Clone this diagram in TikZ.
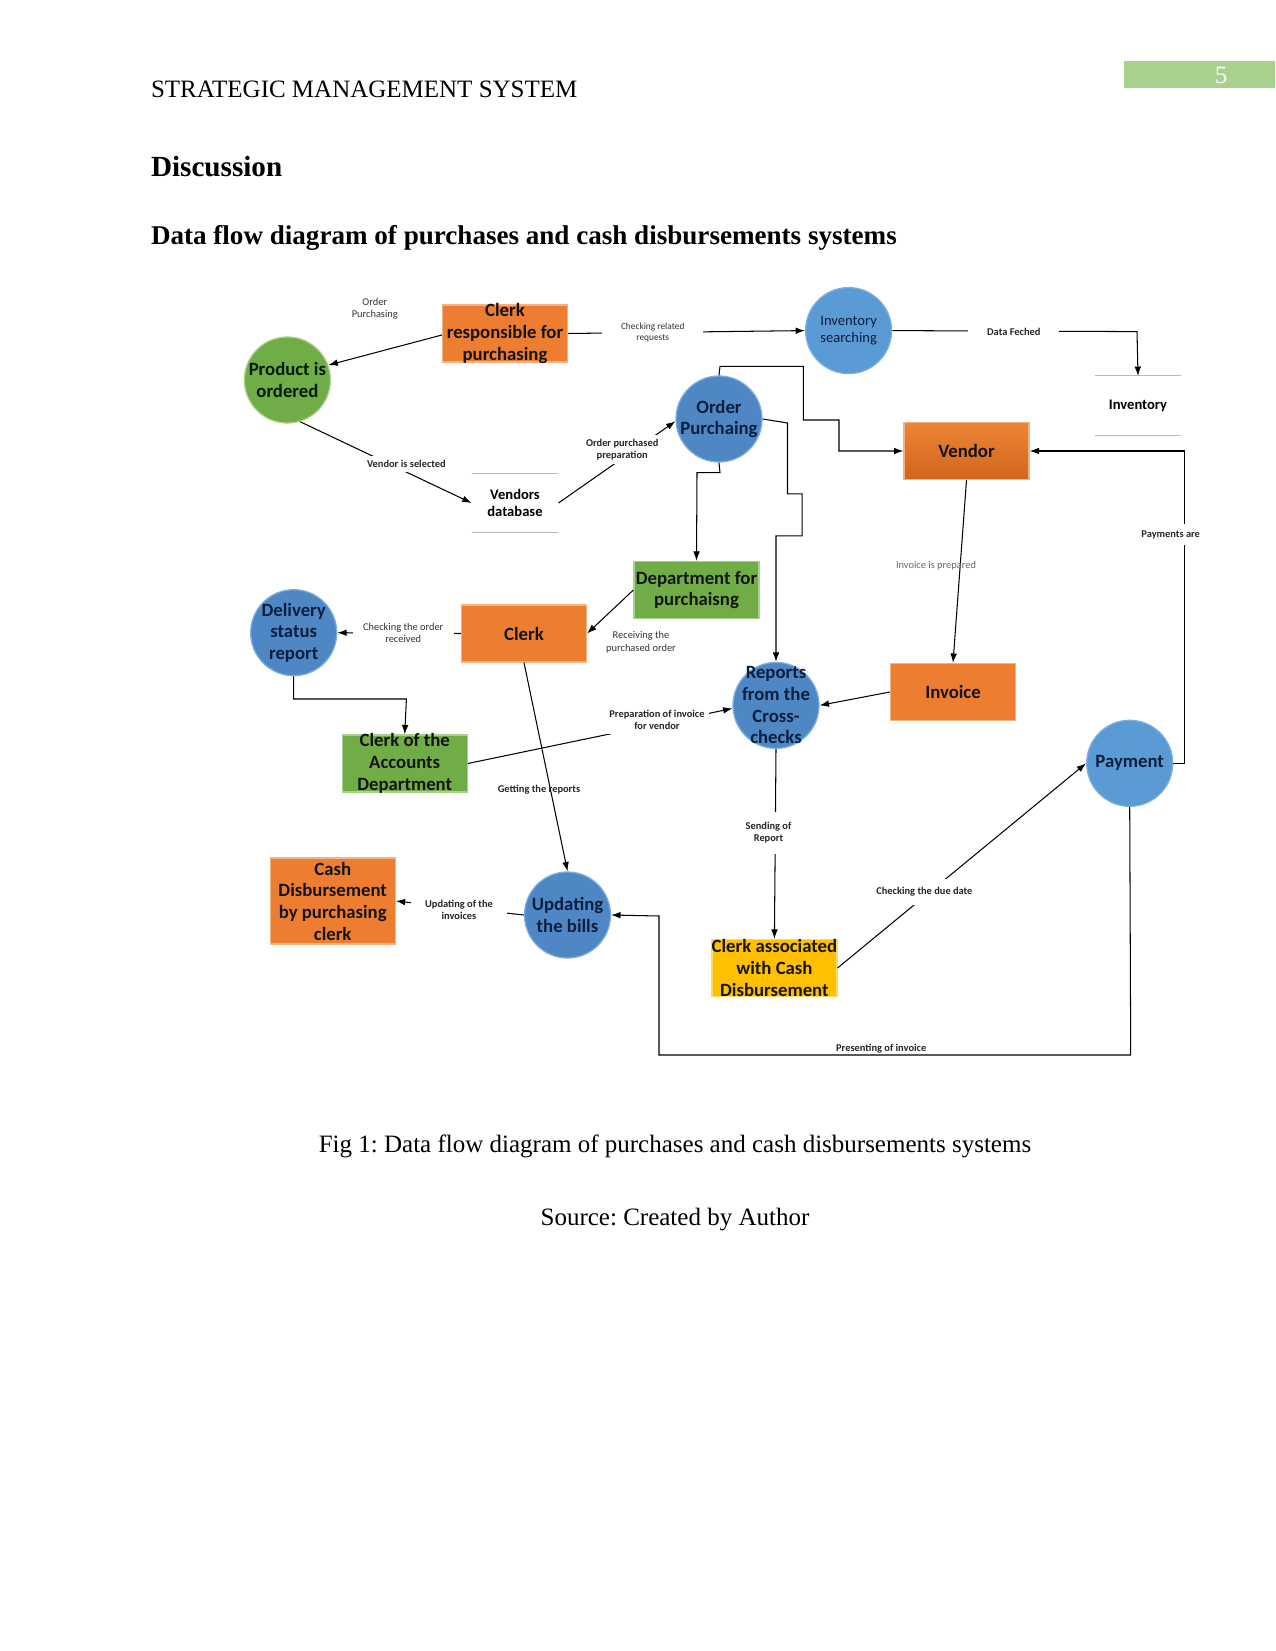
\documentclass[tikz,border=0pt]{standalone}
\usepackage{fontspec}
\setmainfont{Liberation Serif}
\newfontfamily\calibri{Carlito}
\usetikzlibrary{arrows.meta}
\frenchspacing
\definecolor{org}{HTML}{ED7D31}
\definecolor{orgL}{HTML}{F4B183}
\definecolor{orgV1}{HTML}{EE8435}
\definecolor{orgV2}{HTML}{D0661C}
\definecolor{grn}{HTML}{70AD47}
\definecolor{grnL}{HTML}{A9D18E}
\definecolor{blu}{HTML}{5B9BD5}
\definecolor{bluD}{HTML}{4F87C5}
\definecolor{yel}{HTML}{FFC000}
\definecolor{navy}{HTML}{0B1F3F}
\definecolor{pgreen}{HTML}{A9D18E}
\begin{document}
\begin{tikzpicture}[x=0.48pt,y=-0.48pt,
  box/.style={rectangle, inner sep=0pt, minimum width=60pt, minimum height=27.4pt, line width=0.6pt},
  obox/.style={box, fill=org, draw=orgL},
  gbox/.style={box, fill=grn, draw=grnL},
  ybox/.style={box, fill=yel, draw=yel!60!white},
  proc/.style={circle, inner sep=0pt, minimum size=41.3pt, fill=bluD, draw=blu!80!white, line width=0.6pt},
  procL/.style={proc, fill=blu},
  procG/.style={proc, fill=grn, draw=grnL},
  nt/.style={font=\calibri\bfseries\fontsize{9}{10.4}\selectfont, align=center, text=black!92, inner sep=0pt},
  ct/.style={nt, text=navy},
  lab/.style={font=\calibri\fontsize{5}{5.8}\selectfont, align=center, inner sep=0.8pt, text=black!80},
  labb/.style={lab, font=\calibri\bfseries\fontsize{5}{5.8}\selectfont, text=black!85},
  wl/.style={fill=white},
  flow/.style={draw=black, line width=0.5pt, -{Latex[length=4.5pt,width=3.2pt]}},
  link/.style={draw=black, line width=0.5pt},
  store/.style={rectangle, inner sep=0pt, minimum width=41.3pt, minimum height=28pt},
  stline/.style={draw=gray!55, line width=0.5pt}
]
\useasboundingbox (0,0) rectangle (1275,1651);

% page header
\node[anchor=base west, font=\fontsize{12}{14}\selectfont, inner sep=0pt] (hdr) at (150.6,98) {STRATEGIC MANAGEMENT SYSTEM};
\fill[pgreen] (1124.4,61) rectangle (1275,88.4);
\node[font=\fontsize{12}{14}\selectfont, text=white, inner sep=0pt] (pgno) at (1221,75) {5};
\node[anchor=base west, font=\bfseries\fontsize{14}{16}\selectfont, inner sep=0pt] (disc) at (150.6,177) {Discussion};
\node[anchor=base west, font=\bfseries\fontsize{13}{15}\selectfont, inner sep=0pt] (ttl) at (150.6,245) {Data flow diagram of purchases and cash disbursements systems};

% nodes
\node[obox] (clerk1) at (505,333.5) {};
\node[nt] (clerk1-t) at (clerk1) {Clerk\\responsible for\\purchasing};
\node[procG] (prod) at (287.4,380) {};
\node[nt, text=black!90!green] (prod-t) at (prod) {Product is\\ordered};
\node[procL] (invs) at (848.6,330.6) {};
\node[font=\calibri\fontsize{7}{8}\selectfont, align=center, text=navy, inner sep=0pt] (invs-t) at (invs) {Inventory\\searching};
\node[store] (inv) at (1138,405.5) {};
\node[font=\calibri\bfseries\fontsize{7}{8}\selectfont, inner sep=0pt] (inv-t) at (inv) {Inventory};
\draw[stline] (inv.north west) -- (inv.north east) (inv.south west) -- (inv.south east);
\node[proc] (op) at (719,419) {};
\node[ct] (op-t) at (op) {Order\\Purchaing};
\node[box, top color=orgV1, bottom color=orgV2, draw=orgL] (vendor) at (966.5,451) {};
\node[nt] (vendor-t) at (vendor) {Vendor};
\node[store] (vdb) at (515,503) {};
\node[font=\calibri\bfseries\fontsize{7}{8}\selectfont, align=center, inner sep=0pt] (vdb-t) at (vdb) {Vendors\\database};
\draw[stline] (vdb.north west) -- (vdb.north east) (vdb.south west) -- (vdb.south east);
\node[gbox] (dept) at (696.5,590) {};
\node[nt] (dept-t) at (dept) {Department for\\purchaisng};
\node[obox] (clerk) at (524,633.5) {};
\node[nt] (clerk-t) at (clerk) {Clerk};
\node[proc] (deliv) at (293.7,632.7) {};
\node[ct] (deliv-t) at (deliv) {Delivery\\status\\report};
\node[gbox] (acc) at (404.7,763.5) {};
\node[nt] (acc-t) at (acc) {Clerk of the\\Accounts\\Department};
\node[proc] (rep) at (776,705.4) {};
\node[ct] (rep-t) at (rep) {Reports\\from the\\Cross-\\checks};
\node[obox] (invc) at (953,692) {};
\node[nt] (invc-t) at (invc) {Invoice};
\node[procL] (pay) at (1129.7,763.3) {};
\node[ct] (pay-t) at (pay) {Payment};
\node[proc] (upd) at (567.5,915) {};
\node[ct] (upd-t) at (upd) {Updating\\the bills};
\node[obox, minimum height=41.3pt] (cash) at (332.7,901) {};
\node[nt] (cash-t) at (cash) {Cash\\Disbursement\\by purchasing\\clerk};
\node[ybox] (ca) at (774.4,968) {};
\node[nt] (ca-t) at (ca) {Clerk associated\\with Cash\\Disbursement};

% connectors
\draw[flow] (clerk1.west |- 0,335) -- (prod.20);
\node[lab] (l1) at (374.8,308.5) {Order\\Purchasing};

\draw[flow] (clerk1.east) -- (invs.west);
\node[lab, wl, inner xsep=9pt, font=\calibri\fontsize{4.5}{5.2}\selectfont] (l2) at (652.7,332.5) {Checking related\\requests};

\draw[flow] (invs.east) -- (1137,331.6) -- (inv.north);
\node[labb, wl, inner xsep=9pt] (l3) at (1013.8,331.6) {Data Feched};

\draw[flow] (prod.-73) -- (vdb.west);
\node[labb, wl, inner ysep=2pt] (l4) at (406.4,464.3) {Vendor is selected};

\draw[flow] (vdb.east) -- (op.183);
\node[labb, wl, inner sep=2pt] (l5) at (622.2,449.5) {Order purchased\\preparation};

\draw[flow] (op.north) -- (720,366.4) -- (803.3,366.4) -- (803.3,420) -- (839,420) -- (839,451) -- (vendor.west);
\draw[flow] (op.east) -- (787.5,423) -- (787.5,493.8) -- (802.2,493.8) -- (802.2,535.9) -- (776,535.9) -- (rep.north);
\draw[flow] (op.south) -- (720,472.7) -- (697,472.7) -- (dept.north);

\draw[flow] (vendor.south) -- (invc.north);
\node[lab, text=black!60] (l6) at (936,565.4) {Invoice is prepared};

\draw[flow] (pay.east) -- (1184.4,763.3) -- (1184.4,451) -- (vendor.east);
\node[labb, wl, inner ysep=3pt] (l7) at (1170.7,534.8) {Payments are};

\draw[flow] (dept.west) -- (clerk.east);
\node[lab] (l8) at (641,642.2) {Receiving the\\purchased order};

\draw[flow] (clerk.west) -- (deliv.east);
\node[lab, wl, inner xsep=5pt] (l9) at (403.2,632.7) {Checking the order\\received};

\draw[flow] (deliv.south) -- (293.7,699) -- (406.4,699) -- (acc.north);

\draw[flow] (acc.east) -- (rep.184);
\node[labb, wl, inner sep=2pt] (l10) at (657,720) {Preparation of invoice\\for vendor};

\draw[flow] (invc.west) -- (rep.east);

\draw[flow] (clerk.south) -- (upd.north);
\node[labb] (l11) at (539,789.6) {Getting the reports};

\draw[flow] (upd.west) -- (cash.east);
\node[labb, wl, inner xsep=7pt] (l12) at (459,909.6) {Updating of the\\invoices};

\draw[flow] (rep.south) -- (ca.north);
\node[labb, wl, inner ysep=5pt] (l13) at (768.5,832.8) {Sending of\\Report};

\draw[flow] (ca.east) -- (pay.west);
\node[labb, wl, inner ysep=4pt] (l14) at (924.4,891.7) {Checking the due date};

\draw[flow] (pay.south) -- (1130.7,1055) -- (659,1055) -- (659,916) -- (upd.east);
\node[labb, anchor=south] (l15) at (881.2,1055) {Presenting of invoice};

% caption
\node[anchor=base, font=\fontsize{12}{14}\selectfont, inner sep=0pt] (cap) at (675,1152) {Fig 1: Data flow diagram of purchases and cash disbursements systems};
\node[anchor=base, font=\fontsize{12}{14}\selectfont, inner sep=0pt] (src) at (675,1225.5) {Source: Created by Author};
\end{tikzpicture}
\end{document}
